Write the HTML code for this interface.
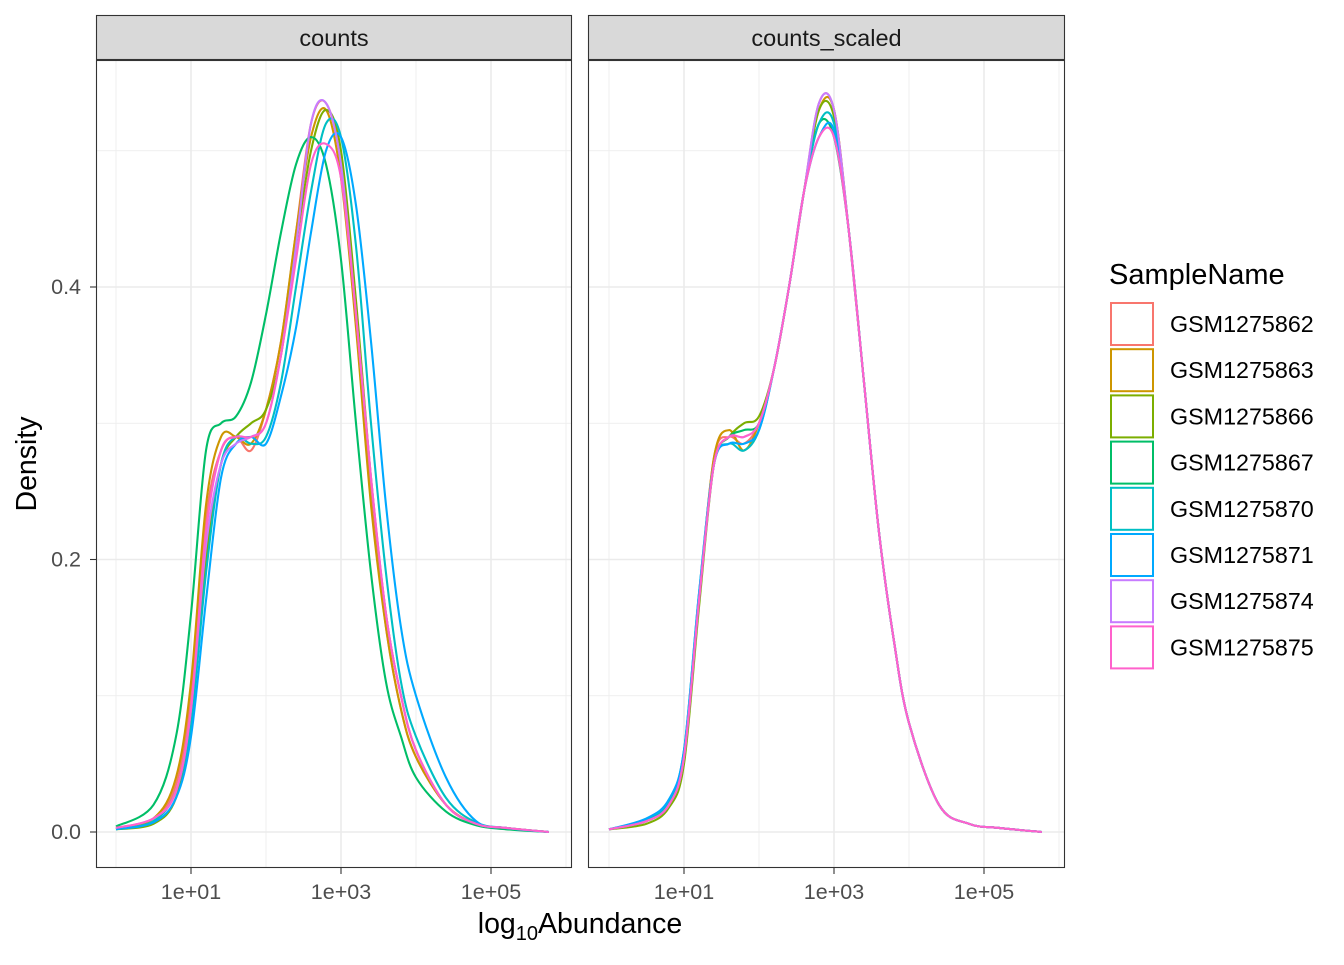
<!DOCTYPE html>
<html><head><meta charset="utf-8">
<style>
body{margin:0;background:#fff;}
svg text{font-family:"Liberation Sans",Arial,sans-serif;}
</style></head>
<body>
<svg id="chart" width="1344" height="960" xmlns="http://www.w3.org/2000/svg"></svg>
<script>
const xs = [0,0.5,0.8,1.0,1.2,1.4,1.6,1.8,2.0,2.2,2.4,2.6,2.8,3.0,3.2,3.4,3.6,3.8,4.0,4.4,4.8,5.2,5.77];
const sampleNames = ["GSM1275862","GSM1275863","GSM1275866","GSM1275867","GSM1275870","GSM1275871","GSM1275874","GSM1275875"];
const colors = ["#F8766D","#CD9600","#7CAE00","#00BE67","#00BFC4","#00A9FF","#C77CFF","#FF61CC"];
const panelNames = ["counts","counts_scaled"];
const yTicks = [0,0.2,0.4];
const yTickLabels = ["0.0","0.2","0.4"];
const xTicks = [1,3,5];
const xTickLabels = ["1e+01","1e+03","1e+05"];
const countsSeries = [
 [0.003,0.01,0.035,0.10,0.23,0.28,0.29,0.28,0.31,0.36,0.44,0.52,0.535,0.49,0.38,0.25,0.15,0.09,0.055,0.02,0.006,0.003,0],
 [0.003,0.01,0.04,0.11,0.24,0.29,0.29,0.285,0.31,0.36,0.44,0.51,0.53,0.48,0.37,0.24,0.15,0.09,0.055,0.02,0.006,0.003,0],
 [0.002,0.006,0.025,0.08,0.20,0.27,0.29,0.30,0.31,0.35,0.43,0.50,0.53,0.50,0.39,0.26,0.16,0.10,0.06,0.02,0.006,0.003,0],
 [0.004,0.02,0.07,0.16,0.28,0.30,0.305,0.33,0.38,0.44,0.49,0.51,0.49,0.42,0.30,0.19,0.11,0.07,0.04,0.015,0.005,0.002,0],
 [0.002,0.008,0.03,0.08,0.19,0.27,0.29,0.285,0.29,0.33,0.40,0.47,0.52,0.51,0.43,0.30,0.19,0.11,0.07,0.025,0.007,0.003,0],
 [0.002,0.007,0.025,0.07,0.17,0.26,0.285,0.29,0.285,0.32,0.37,0.44,0.50,0.51,0.46,0.36,0.24,0.15,0.10,0.04,0.008,0.003,0],
 [0.003,0.01,0.03,0.09,0.21,0.27,0.285,0.29,0.30,0.35,0.43,0.52,0.535,0.49,0.38,0.26,0.16,0.10,0.06,0.02,0.006,0.003,0],
 [0.003,0.01,0.03,0.09,0.22,0.28,0.29,0.29,0.30,0.35,0.42,0.49,0.505,0.48,0.38,0.26,0.16,0.10,0.06,0.02,0.006,0.003,0]
];
const scaledSeries = [
 [0.002,0.008,0.02,0.055,0.17,0.275,0.29,0.285,0.30,0.34,0.40,0.47,0.535,0.53,0.44,0.33,0.22,0.14,0.08,0.02,0.006,0.003,0],
 [0.002,0.008,0.02,0.055,0.17,0.275,0.295,0.28,0.30,0.34,0.40,0.47,0.53,0.53,0.44,0.33,0.22,0.14,0.08,0.02,0.006,0.003,0],
 [0.002,0.006,0.018,0.05,0.165,0.27,0.29,0.30,0.305,0.34,0.40,0.47,0.53,0.525,0.44,0.33,0.22,0.14,0.08,0.02,0.006,0.003,0],
 [0.002,0.008,0.02,0.055,0.17,0.27,0.29,0.295,0.30,0.34,0.40,0.47,0.52,0.51,0.44,0.33,0.22,0.14,0.08,0.02,0.006,0.003,0],
 [0.002,0.009,0.022,0.06,0.175,0.27,0.285,0.28,0.295,0.34,0.40,0.47,0.52,0.52,0.44,0.33,0.22,0.14,0.08,0.02,0.006,0.003,0],
 [0.002,0.01,0.024,0.06,0.175,0.27,0.285,0.285,0.295,0.34,0.40,0.47,0.51,0.515,0.44,0.33,0.22,0.14,0.08,0.02,0.006,0.003,0],
 [0.002,0.008,0.02,0.055,0.17,0.27,0.29,0.29,0.30,0.34,0.40,0.47,0.535,0.53,0.44,0.33,0.22,0.14,0.08,0.02,0.006,0.003,0],
 [0.002,0.008,0.02,0.055,0.17,0.27,0.29,0.29,0.30,0.34,0.40,0.47,0.51,0.51,0.44,0.33,0.22,0.14,0.08,0.02,0.006,0.003,0]
];
const NS="http://www.w3.org/2000/svg";
const svg=document.getElementById('chart');
function mk(tag,attrs,parent){const e=document.createElementNS(NS,tag);for(const k in attrs)e.setAttribute(k,attrs[k]);(parent||svg).appendChild(e);return e;}
const panels=[{x0:96,x1:572,ox:191},{x0:588,x1:1065,ox:684}];
const pTop=60,pBot=868;
function yScale(v){return 832-v*1362.5;}
function smoothPath(pts){let d="M"+pts[0][0].toFixed(1)+","+pts[0][1].toFixed(1);
 for(let i=0;i<pts.length-1;i++){const p0=pts[Math.max(0,i-1)],p1=pts[i],p2=pts[i+1],p3=pts[Math.min(pts.length-1,i+2)];
 const c1=[p1[0]+(p2[0]-p0[0])/6,p1[1]+(p2[1]-p0[1])/6],c2=[p2[0]-(p3[0]-p1[0])/6,p2[1]-(p3[1]-p1[1])/6];
 d+=" C"+c1[0].toFixed(1)+","+c1[1].toFixed(1)+" "+c2[0].toFixed(1)+","+c2[1].toFixed(1)+" "+p2[0].toFixed(1)+","+p2[1].toFixed(1);}
 return d;}
[countsSeries,scaledSeries].forEach((series,pi)=>{
 const P=panels[pi];
 const xScale=l=>P.ox+(l-1)*75;
 const g=mk('g',{});
 
 
 mk('rect',{x:P.x0,y:pTop,width:P.x1-P.x0,height:pBot-pTop,fill:'#fff'},g);
 [0.1,0.3,0.5].forEach(v=>{const l=mk('line',{x1:P.x0,x2:P.x1,y1:yScale(v),y2:yScale(v),stroke:'#ebebeb','stroke-width':0.8},g);
  });
 [0,2,4,6].forEach(v=>{const l=mk('line',{x1:xScale(v),x2:xScale(v),y1:pTop,y2:pBot,stroke:'#ebebeb','stroke-width':0.8},g);
  });
 yTicks.forEach(v=>{const l=mk('line',{x1:P.x0,x2:P.x1,y1:yScale(v),y2:yScale(v),stroke:'#ebebeb','stroke-width':1.6},g);
  });
 xTicks.forEach(v=>{const l=mk('line',{x1:xScale(v),x2:xScale(v),y1:pTop,y2:pBot,stroke:'#ebebeb','stroke-width':1.6},g);
  });
 series.forEach((ys,si)=>{
  const pts=xs.map((l,i)=>[xScale(l),yScale(ys[i])]);
  const p=mk('path',{d:smoothPath(pts),fill:'none',stroke:colors[si],'stroke-width':2.1},g);
  
  
 });
 const b=mk('rect',{x:P.x0+0.5,y:pTop+0.5,width:P.x1-P.x0-1,height:pBot-pTop-1,fill:'none',stroke:'#333','stroke-width':1.1},g);
 
 const s=mk('rect',{x:P.x0+0.5,y:15.5,width:P.x1-P.x0-1,height:44,fill:'#d9d9d9',stroke:'#333','stroke-width':1.1},g);
 
 const st=mk('text',{x:(P.x0+P.x1)/2,y:46,'font-size':23.5,fill:'#1a1a1a','text-anchor':'middle'},g);
 st.textContent=panelNames[pi];
 
 xTicks.forEach((v,i)=>{
  mk('line',{x1:xScale(v),x2:xScale(v),y1:pBot,y2:pBot+6,stroke:'#333','stroke-width':1.1},g);
  const t=mk('text',{x:xScale(v),y:899,'font-size':21.5,fill:'#4d4d4d','text-anchor':'middle'},g);
  t.textContent=xTickLabels[i];
  
 });
 if(pi===0){
  yTicks.forEach((v,i)=>{
   mk('line',{x1:P.x0-6,x2:P.x0,y1:yScale(v),y2:yScale(v),stroke:'#333','stroke-width':1.1},g);
   const t=mk('text',{x:P.x0-15,y:yScale(v)+7,'font-size':21.5,fill:'#4d4d4d','text-anchor':'end'},g);
   t.textContent=yTickLabels[i];
   
  });
 }
});
const yt=mk('text',{x:0,y:0,'font-size':28.5,fill:'#000','text-anchor':'middle',transform:'translate(36,464) rotate(-90)'});
yt.textContent='Density';

const xt=mk('text',{x:580,y:933,'font-size':28.5,fill:'#000','text-anchor':'middle'});

xt.innerHTML='log<tspan font-size="20" dy="7">10</tspan><tspan dy="-7">Abundance</tspan>';
const lg=mk('g',{});

const lt=mk('text',{x:1109,y:284,'font-size':29,fill:'#000'},lg);
lt.textContent='SampleName';

sampleNames.forEach((n,i)=>{
 const y=303+i*46.2;
 const r=mk('rect',{x:1111,y:y,width:42,height:42,fill:'#fff',stroke:colors[i],'stroke-width':2},lg);
 
 const t=mk('text',{x:1170,y:y+29,'font-size':23.3,fill:'#000'},lg);
 t.textContent=n;
 
});
</script>
</body></html>
